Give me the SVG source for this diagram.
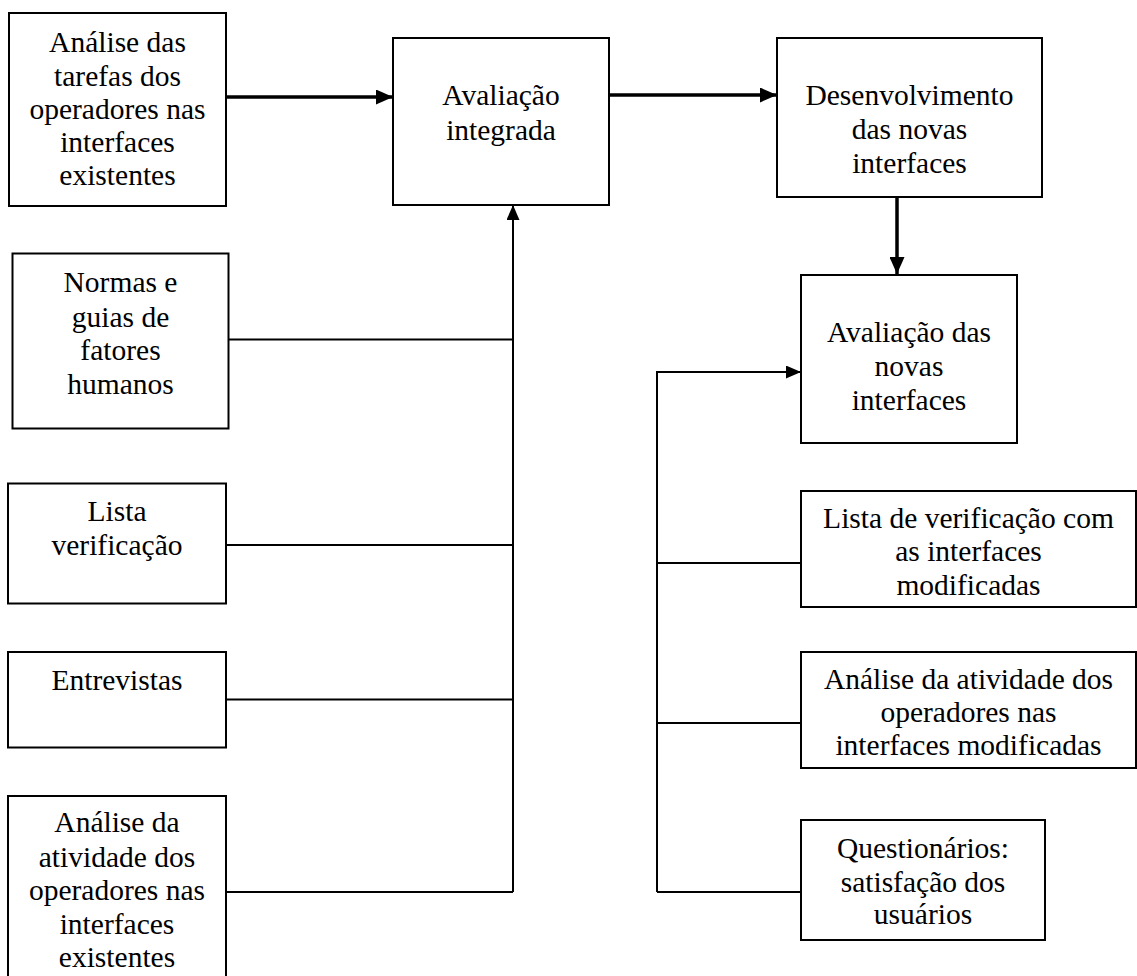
<svg xmlns="http://www.w3.org/2000/svg" width="1137" height="976" viewBox="0 0 1137 976">
  <style>
    .box { fill: #fff; stroke: #000; stroke-width: 2; }
    .lbl { font-family: "Liberation Serif", "Times New Roman", serif; font-size: 29.5px; fill: #000; text-anchor: middle; }
    .thick { stroke: #000; stroke-width: 3.5; fill: none; }
    .thin { stroke: #000; stroke-width: 2; fill: none; }
  </style>
  <defs>
    <marker id="headBig" viewBox="0 0 17 15" refX="17" refY="7.5" markerWidth="17" markerHeight="15" markerUnits="userSpaceOnUse" orient="auto">
      <path d="M0,0 L17,7.5 L0,15 Z" fill="#000"/>
    </marker>
    <marker id="headSmall" viewBox="0 0 15 13" refX="15" refY="6.5" markerWidth="15" markerHeight="13" markerUnits="userSpaceOnUse" orient="auto">
      <path d="M0,0 L15,6.5 L0,13 Z" fill="#000"/>
    </marker>
  </defs>

  <!-- connectors -->
  <g id="connectors">
    <line class="thick" x1="226" y1="97" x2="393" y2="97" marker-end="url(#headBig)"/>
    <line class="thick" x1="609" y1="95" x2="777" y2="95" marker-end="url(#headBig)"/>
    <line class="thick" x1="897" y1="197" x2="897" y2="274" marker-end="url(#headBig)"/>
    <!-- inputs to the integrated evaluation -->
    <polyline class="thin" points="513,892 513,205" marker-end="url(#headSmall)"/>
    <line class="thin" x1="224" y1="339.5" x2="513" y2="339.5"/>
    <line class="thin" x1="226" y1="545" x2="513" y2="545"/>
    <line class="thin" x1="226" y1="699.5" x2="513" y2="699.5"/>
    <line class="thin" x1="226" y1="892" x2="513" y2="892"/>
    <!-- inputs to the evaluation of the new interfaces -->
    <polyline class="thin" points="657,892 657,372 801,372" marker-end="url(#headSmall)"/>
    <line class="thin" x1="657" y1="563" x2="801" y2="563"/>
    <line class="thin" x1="657" y1="723" x2="801" y2="723"/>
    <line class="thin" x1="657" y1="892" x2="801" y2="892"/>
  </g>

  <g id="analise-tarefas">
    <rect class="box" x="9" y="13" width="217" height="193"/>
    <text class="lbl" x="117.5" y="52">Análise das</text>
    <text class="lbl" x="117.5" y="85.5">tarefas dos</text>
    <text class="lbl" x="117.5" y="118.5">operadores nas</text>
    <text class="lbl" x="117.5" y="152">interfaces</text>
    <text class="lbl" x="117.5" y="185">existentes</text>
  </g>

  <g id="avaliacao-integrada">
    <rect class="box" x="393" y="38" width="216" height="167"/>
    <text class="lbl" x="501" y="105">Avaliação</text>
    <text class="lbl" x="501" y="140">integrada</text>
  </g>

  <g id="desenvolvimento">
    <rect class="box" x="777" y="38" width="265" height="159"/>
    <text class="lbl" x="909.5" y="105">Desenvolvimento</text>
    <text class="lbl" x="909.5" y="138.5">das novas</text>
    <text class="lbl" x="909.5" y="172.5">interfaces</text>
  </g>

  <g id="avaliacao-novas">
    <rect class="box" x="801" y="275" width="216" height="168"/>
    <text class="lbl" x="909" y="342">Avaliação das</text>
    <text class="lbl" x="909" y="375.5">novas</text>
    <text class="lbl" x="909" y="410">interfaces</text>
  </g>

  <g id="normas">
    <rect class="box" x="12.5" y="253.5" width="216" height="175"/>
    <text class="lbl" x="120.5" y="292">Normas e</text>
    <text class="lbl" x="120.5" y="326.5">guias de</text>
    <text class="lbl" x="120.5" y="360">fatores</text>
    <text class="lbl" x="120.5" y="393.5">humanos</text>
  </g>

  <g id="lista-verificacao">
    <rect class="box" x="8" y="483.5" width="218" height="120"/>
    <text class="lbl" x="117" y="521">Lista</text>
    <text class="lbl" x="117" y="555">verificação</text>
  </g>

  <g id="entrevistas">
    <rect class="box" x="8" y="652" width="218" height="95.5"/>
    <text class="lbl" x="117" y="690">Entrevistas</text>
  </g>

  <g id="analise-atividade-existentes">
    <rect class="box" x="8" y="796" width="218" height="190"/>
    <text class="lbl" x="117" y="832">Análise da</text>
    <text class="lbl" x="117" y="866.5">atividade dos</text>
    <text class="lbl" x="117" y="900">operadores nas</text>
    <text class="lbl" x="117" y="933.5">interfaces</text>
    <text class="lbl" x="117" y="967">existentes</text>
  </g>

  <g id="lista-modificadas">
    <rect class="box" x="801" y="491" width="335" height="116"/>
    <text class="lbl" x="968.5" y="528">Lista de verificação com</text>
    <text class="lbl" x="968.5" y="561">as interfaces</text>
    <text class="lbl" x="968.5" y="595">modificadas</text>
  </g>

  <g id="analise-atividade-modificadas">
    <rect class="box" x="801" y="652" width="335" height="116"/>
    <text class="lbl" x="968.5" y="688.5">Análise da atividade dos</text>
    <text class="lbl" x="968.5" y="722">operadores nas</text>
    <text class="lbl" x="968.5" y="755">interfaces modificadas</text>
  </g>

  <g id="questionarios">
    <rect class="box" x="801" y="820" width="244" height="120"/>
    <text class="lbl" x="923" y="858">Questionários:</text>
    <text class="lbl" x="923" y="891.5">satisfação dos</text>
    <text class="lbl" x="923" y="924">usuários</text>
  </g>
</svg>
